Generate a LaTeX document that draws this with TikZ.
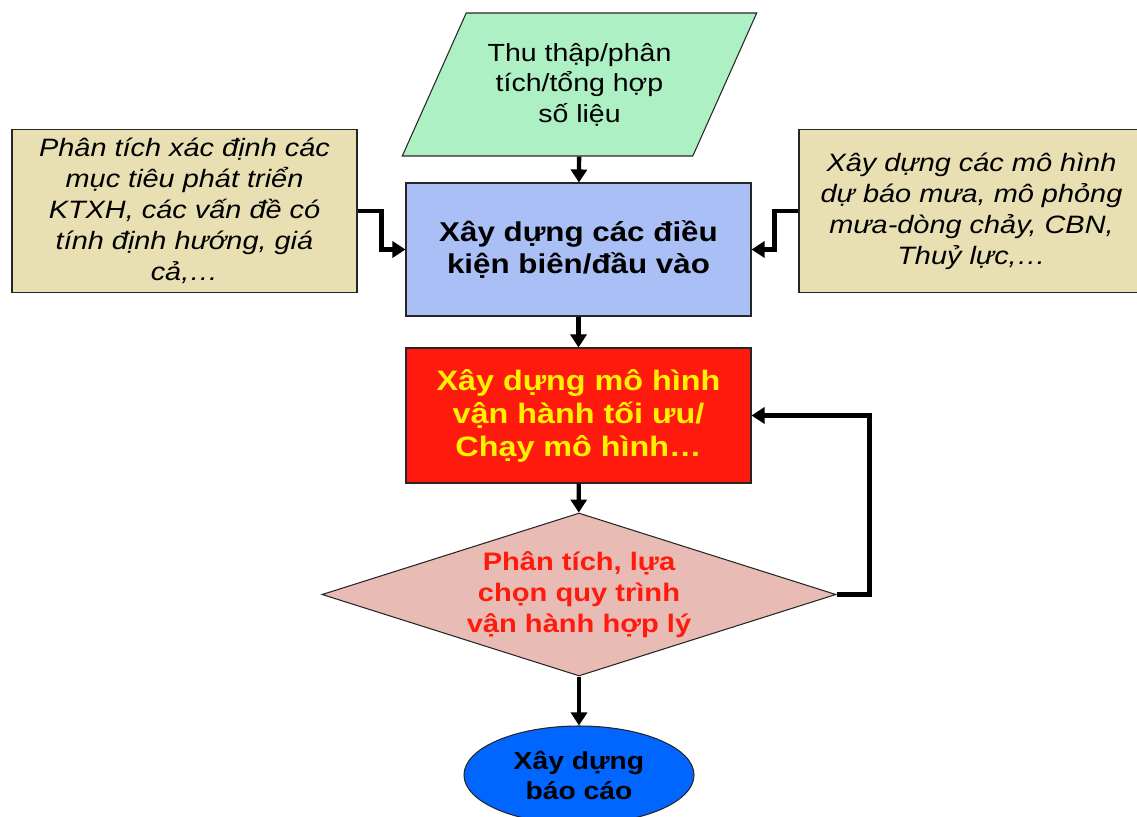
\documentclass[tikz,border=0pt]{standalone}
\usepackage{fontspec}
\setmainfont{Liberation Sans}[FakeStretch=1.15]
\usepackage{tikz}
\usetikzlibrary{shapes.geometric, arrows.meta, positioning}

\definecolor{datagreen}{RGB}{173,240,195}
\definecolor{sidetan}{RGB}{232,223,178}
\definecolor{condblue}{RGB}{169,191,245}
\definecolor{modelred}{RGB}{255,26,13}
\definecolor{choosepink}{RGB}{232,188,180}
\definecolor{reportblue}{RGB}{0,102,255}

\begin{document}
\begin{tikzpicture}[
    box/.style={draw=black!85, line width=0.6pt, align=center},
    databox/.style={box, trapezium, trapezium left angle=58, trapezium right angle=122,
                    trapezium stretches=true, fill=datagreen,
                    minimum width=7.1cm, minimum height=2.86cm, inner sep=0pt,
                    font=\fontsize{14.1}{17.4}\selectfont},
    sidebox/.style={box, rectangle, fill=sidetan, minimum width=6.9cm, minimum height=3.26cm,
                    font=\fontsize{14.3}{17.6}\selectfont\itshape},
    condbox/.style={box, rectangle, fill=condblue, minimum width=6.9cm, minimum height=2.66cm,
                    font=\fontsize{15.5}{18.2}\selectfont\bfseries},
    modelbox/.style={box, rectangle, fill=modelred, text=yellow, minimum width=6.9cm,
                     minimum height=2.7cm, font=\fontsize{16}{18.8}\selectfont\bfseries},
    choosebox/.style={box, diamond, aspect=3.15, fill=choosepink, text=modelred, inner sep=0pt,
                      minimum width=10.28cm, minimum height=3.26cm,
                      font=\fontsize{14.4}{17.6}\selectfont\bfseries},
    reportbox/.style={box, ellipse, fill=reportblue, minimum width=4.6cm, minimum height=1.96cm,
                      inner sep=0pt, font=\fontsize{14}{17}\selectfont\bfseries},
    arrow/.style={-{Triangle[length=0.26cm, width=0.32cm]}, line width=2.5pt},
]

\useasboundingbox (0,0) rectangle (22.74,-16.34);
\clip (0,0) rectangle (22.74,-16.34);

% Grid layout
% x cols : 3.7=left input,  11.6=main column,  19.4=right input
% y rows : -1.7=data, -5=conditions, -8.3=model, -11.9=choice, -15.5=report

\node[databox]   at (11.59, -1.69)  (data)   {Thu thập/phân\\tích/tổng hợp\\số liệu};
\node[sidebox]   at (3.69,  -4.22)  (goals)  {Phân tích xác định các\\mục tiêu phát triển\\KTXH, các vấn đề có\\tính định hướng, giá\\cả,\ldots};
\node[condbox]   at (11.57, -4.99)  (cond)   {Xây dựng các điều\\kiện biên/đầu vào};
\node[sidebox]   at (19.43, -4.22)  (models) {Xây dựng các mô hình\\dự báo mưa, mô phỏng\\mưa-dòng chảy, CBN,\\Thuỷ lực,\ldots};
\node[modelbox]  at (11.57, -8.31)  (run)    {Xây dựng mô hình\\vận hành tối ưu/\\Chạy mô hình\ldots};
\node[choosebox] at (11.58, -11.89) (choose) {Phân tích, lựa\\chọn quy trình\\vận hành hợp lý};
\node[reportbox] at (11.58, -15.5)  (report) {Xây dựng\\báo cáo};

% main column
\draw[arrow] (data) -- (cond);
\draw[arrow] (cond) -- (run);
\draw[arrow] (run) -- (choose);
\draw[arrow] (choose) -- (report);

% side inputs: right/left then down
\draw[arrow] (goals.east) -- ++(0.48,0) |- (cond.west);
\draw[arrow] (models.west) -- ++(-0.48,0) |- (cond.east);

% feedback loop back to the model
\draw[arrow] (choose.east) -- ++(0.66,0) |- (run.east);
\end{tikzpicture}
\end{document}
